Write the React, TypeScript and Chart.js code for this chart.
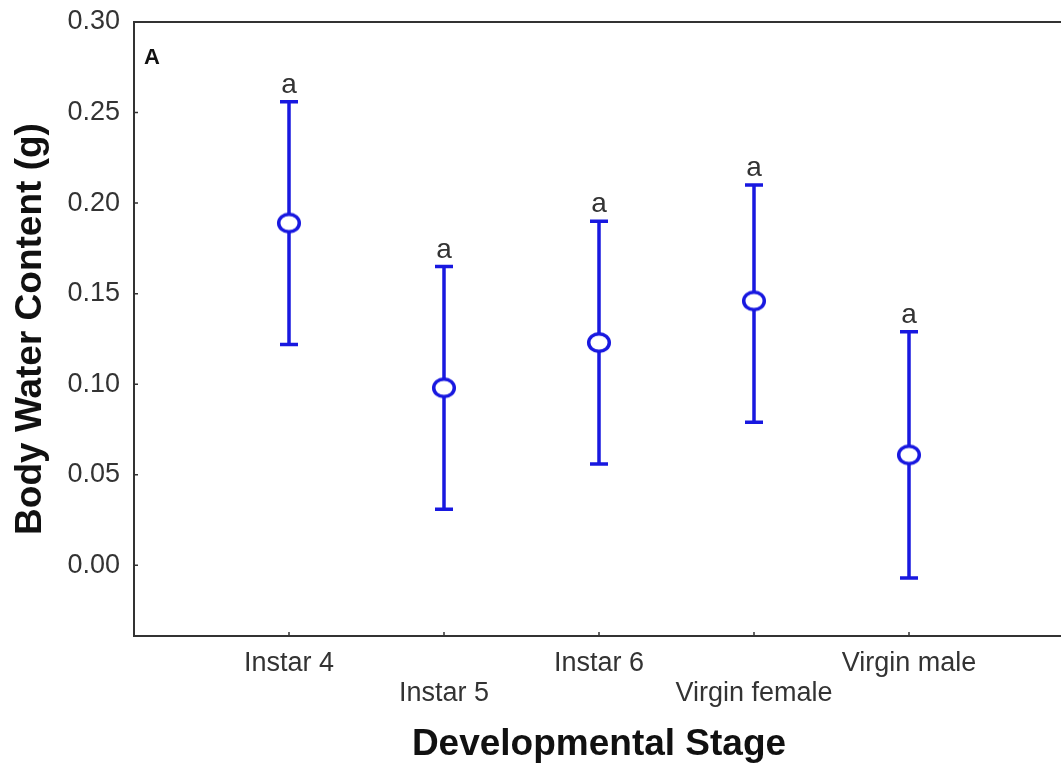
import React, { useEffect, useRef } from "react";
import { Chart, registerables } from "chart.js";

Chart.register(...registerables);

const categories = ["Instar 4", "Instar 5", "Instar 6", "Virgin female", "Virgin male"];
const means = [0.189, 0.098, 0.123, 0.146, 0.061];
const upper = [0.256, 0.165, 0.19, 0.21, 0.129];
const lower = [0.122, 0.031, 0.056, 0.079, -0.007];
const letters = ["a", "a", "a", "a", "a"];
const yTicks = [0, 0.05, 0.1, 0.15, 0.2, 0.25, 0.3];
const panelLabel = "A";
const xTitle = "Developmental Stage";
const yTitle = "Body Water Content (g)";

const BLUE = "#1818e0";
const FRAME = "#333333";
const FONT = "'Liberation Sans', Arial, sans-serif";

function makeMarker(): HTMLCanvasElement {
  const c = document.createElement("canvas");
  c.width = 28;
  c.height = 25;
  const g = c.getContext("2d")!;
  g.beginPath();
  g.ellipse(14, 12.5, 10.3, 8.8, 0, 0, Math.PI * 2);
  g.fillStyle = "#ffffff";
  g.fill();
  g.lineWidth = 3.5;
  g.strokeStyle = BLUE;
  g.stroke();
  return c;
}

const errorBarPlugin = {
  id: "errorBars",
  beforeDatasetsDraw(chart: any) {
    const { ctx, scales } = chart;
    const x = scales.x;
    const y = scales.y;
    ctx.save();
    ctx.strokeStyle = BLUE;
    ctx.lineWidth = 3.5;
    ctx.lineCap = "butt";
    categories.forEach((_, i) => {
      const px = x.getPixelForValue(i);
      const yu = y.getPixelForValue(upper[i]);
      const yl = y.getPixelForValue(lower[i]);
      ctx.beginPath();
      ctx.moveTo(px, yu);
      ctx.lineTo(px, yl);
      ctx.moveTo(px - 9, yu);
      ctx.lineTo(px + 9, yu);
      ctx.moveTo(px - 9, yl);
      ctx.lineTo(px + 9, yl);
      ctx.stroke();
    });
    ctx.fillStyle = "#333333";
    ctx.font = `28px ${FONT}`;
    ctx.textAlign = "center";
    ctx.textBaseline = "alphabetic";
    categories.forEach((_, i) => {
      const px = x.getPixelForValue(i);
      const yu = y.getPixelForValue(upper[i]);
      ctx.fillText(letters[i], px, yu - 9);
    });
    ctx.restore();
  },
};

const framePlugin = {
  id: "frame",
  afterDraw(chart: any) {
    const { ctx, chartArea, scales } = chart;
    const { left, top, right, bottom } = chartArea;
    ctx.save();
    ctx.strokeStyle = FRAME;
    ctx.lineWidth = 2;
    ctx.strokeRect(left, top, right - left, bottom - top);
    ctx.lineWidth = 1.5;
    ctx.beginPath();
    yTicks.forEach((v) => {
      const py = scales.y.getPixelForValue(v);
      ctx.moveTo(left, py);
      ctx.lineTo(left + 4, py);
    });
    categories.forEach((_, i) => {
      const px = scales.x.getPixelForValue(i);
      ctx.moveTo(px, bottom);
      ctx.lineTo(px, bottom - 4);
    });
    ctx.stroke();
    ctx.fillStyle = "#111111";
    ctx.font = `bold 22px ${FONT}`;
    ctx.textAlign = "left";
    ctx.textBaseline = "alphabetic";
    ctx.fillText(panelLabel, left + 10, top + 42);
    ctx.restore();
  },
};

export default function App() {
  const ref = useRef<HTMLCanvasElement | null>(null);

  useEffect(() => {
    if (!ref.current) return;
    const marker = makeMarker();
    const chart = new Chart(ref.current, {
      type: "scatter",
      data: {
        datasets: [
          {
            data: means.map((m, i) => ({ x: i, y: m })),
            pointStyle: marker as any,
            pointRadius: 12,
            showLine: false,
          },
        ],
      },
      options: {
        animation: false,
        responsive: false,
        events: [],
        layout: { padding: { top: 22, right: 16, bottom: 0, left: 0 } },
        plugins: { legend: { display: false }, tooltip: { enabled: false } },
        scales: {
          x: {
            type: "linear",
            min: -1,
            max: 5,
            afterBuildTicks: (s: any) => {
              s.ticks = categories.map((_, i) => ({ value: i }));
            },
            afterFit: (s: any) => {
              s.height = 131;
              s.paddingLeft = 0;
              s.paddingRight = 0;
            },
            grid: { display: false, drawTicks: false },
            border: { display: false },
            ticks: {
              autoSkip: false,
              maxRotation: 0,
              minRotation: 0,
              padding: 13,
              color: "#333333",
              font: { family: FONT, size: 27, lineHeight: 1.1 },
              callback: (v: any) => {
                const i = Math.round(Number(v));
                const lbl = categories[i] ?? "";
                return i % 2 === 1 ? ["", lbl] : lbl;
              },
            },
            title: {
              display: true,
              text: xTitle,
              color: "#111111",
              font: { family: FONT, size: 37, weight: "bold" },
              padding: { top: 0, bottom: 0 },
            },
          },
          y: {
            min: -0.039,
            max: 0.3,
            afterBuildTicks: (s: any) => {
              s.ticks = yTicks.map((v) => ({ value: v }));
            },
            afterFit: (s: any) => {
              s.width = 134;
              s.paddingTop = 0;
              s.paddingBottom = 0;
            },
            grid: { display: false, drawTicks: false },
            border: { display: false },
            ticks: {
              padding: 14,
              color: "#333333",
              font: { family: FONT, size: 27 },
              callback: (v: any) => Number(v).toFixed(2),
            },
            title: {
              display: true,
              text: yTitle,
              color: "#111111",
              font: { family: FONT, size: 37, weight: "bold" },
              padding: { top: 9, bottom: 0 },
            },
          },
        },
      },
      plugins: [errorBarPlugin, framePlugin],
    });
    return () => chart.destroy();
  }, []);

  return (
    <div
      style={{
        position: "fixed",
        left: 0,
        top: 0,
        width: 1061,
        height: 767,
        overflow: "hidden",
        background: "#ffffff",
      }}
    >
      <canvas ref={ref} width={1080} height={767} style={{ display: "block" }} />
    </div>
  );
}
